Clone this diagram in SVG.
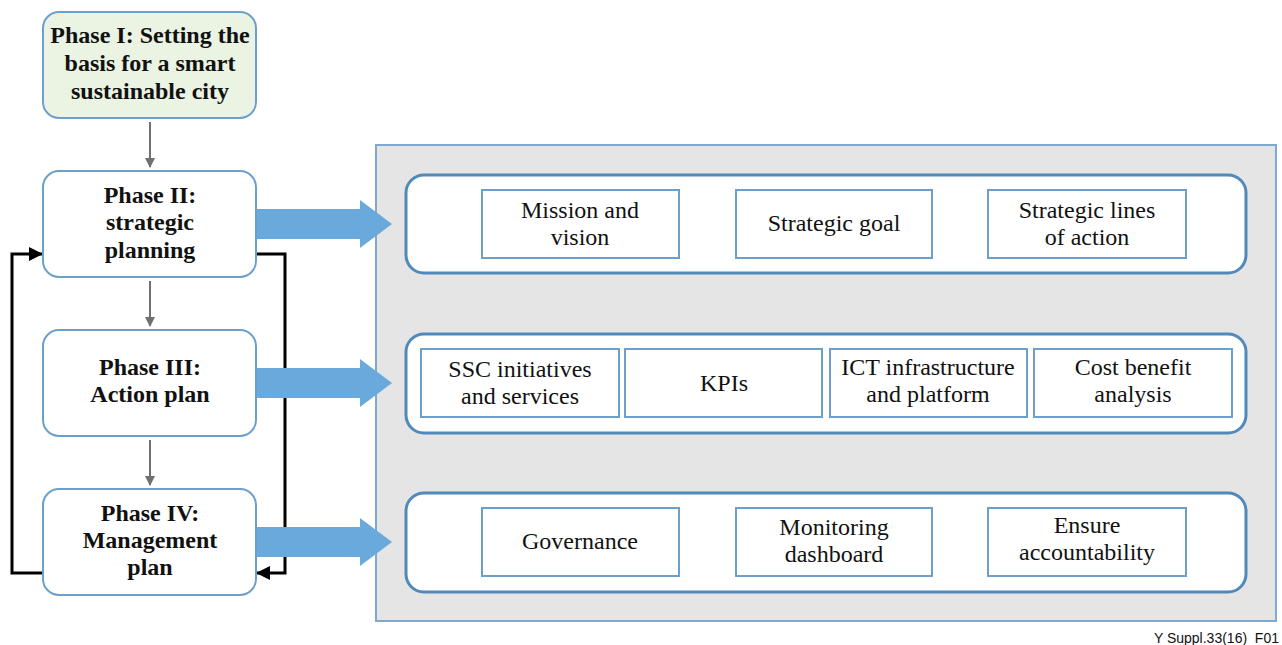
<svg xmlns="http://www.w3.org/2000/svg" width="1282" height="645" viewBox="0 0 1282 645">
<defs>
<style>
.phase{fill:#ffffff;stroke:#6d9fcc;stroke-width:2}
.p1{fill:#ebf4e3}
.pt{font-family:'Liberation Serif','Times New Roman',serif;font-weight:bold;font-size:24px;fill:#111;text-anchor:middle}
.it{font-family:'Liberation Serif','Times New Roman',serif;font-size:24px;fill:#111;text-anchor:middle}
.row{fill:#ffffff;stroke:#5289bb;stroke-width:3}
.box{fill:#ffffff;stroke:#6d9fcc;stroke-width:2}
.blue{fill:#69a9db}
.gray{stroke:#707070;stroke-width:2;fill:none}
.fb{stroke:#000;stroke-width:3;fill:none}
</style>
<marker id="ga" markerWidth="10" markerHeight="10" refX="9" refY="5" orient="auto" markerUnits="userSpaceOnUse">
<path d="M0,0 L10,5 L0,10 Z" fill="#707070"/>
</marker>
<marker id="ba" markerWidth="14" markerHeight="14" refX="13" refY="7" orient="auto" markerUnits="userSpaceOnUse">
<path d="M0,0 L14,7 L0,14 Z" fill="#000"/>
</marker>
</defs>
<rect width="1282" height="645" fill="#ffffff"/>

<rect id="panel" x="376" y="145" width="900" height="476" fill="#e5e5e5" stroke="#80a9cf" stroke-width="2"/>

<g id="connectors">
<line class="gray" x1="150" y1="122" x2="150" y2="167" marker-end="url(#ga)"/>
<line class="gray" x1="150" y1="281" x2="150" y2="326" marker-end="url(#ga)"/>
<line class="gray" x1="150" y1="440" x2="150" y2="485" marker-end="url(#ga)"/>
<polyline class="fb" points="256,254 285,254 285,573 257,573" marker-end="url(#ba)"/>
<polyline class="fb" points="43,573 12,573 12,254 42,254" marker-end="url(#ba)"/>
<path class="blue" d="M256,209 L360,209 L360,200 L392,224 L360,248 L360,239 L256,239 Z"/>
<path class="blue" d="M256,368 L360,368 L360,359 L392,383 L360,407 L360,398 L256,398 Z"/>
<path class="blue" d="M256,527 L360,527 L360,518 L392,542 L360,566 L360,557 L256,557 Z"/>
</g>

<g id="phase1">
<rect class="phase p1" x="43" y="12" width="213" height="106" rx="16"/>
<text class="pt" x="150" y="43">Phase I: Setting the</text>
<text class="pt" x="150" y="71">basis for a smart</text>
<text class="pt" x="150" y="99">sustainable city</text>
</g>
<g id="phase2">
<rect class="phase" x="43" y="171" width="213" height="106" rx="16"/>
<text class="pt" x="150" y="203">Phase II:</text>
<text class="pt" x="150" y="230">strategic</text>
<text class="pt" x="150" y="258">planning</text>
</g>
<g id="phase3">
<rect class="phase" x="43" y="330" width="213" height="106" rx="16"/>
<text class="pt" x="150" y="375">Phase III:</text>
<text class="pt" x="150" y="402">Action plan</text>
</g>
<g id="phase4">
<rect class="phase" x="43" y="489" width="213" height="106" rx="16"/>
<text class="pt" x="150" y="521">Phase IV:</text>
<text class="pt" x="150" y="548">Management</text>
<text class="pt" x="150" y="575">plan</text>
</g>

<g id="row1">
<rect class="row" x="406" y="175" width="840" height="98" rx="18"/>
</g>
<g id="mission">
<rect class="box" x="482" y="190" width="197" height="68"/>
<text class="it" x="580" y="218">Mission and</text>
<text class="it" x="580" y="245">vision</text>
</g>
<g id="goal">
<rect class="box" x="736" y="190" width="196" height="68"/>
<text class="it" x="834" y="231">Strategic goal</text>
</g>
<g id="lines">
<rect class="box" x="988" y="190" width="198" height="68"/>
<text class="it" x="1087" y="218">Strategic lines</text>
<text class="it" x="1087" y="245">of action</text>
</g>

<g id="row2">
<rect class="row" x="406" y="334" width="840" height="99" rx="18"/>
</g>
<g id="ssc">
<rect class="box" x="421" y="349" width="198" height="68"/>
<text class="it" x="520" y="377">SSC initiatives</text>
<text class="it" x="520" y="404">and services</text>
</g>
<g id="kpis">
<rect class="box" x="625" y="349" width="197" height="68"/>
<text class="it" x="724" y="391">KPIs</text>
</g>
<g id="ict">
<rect class="box" x="830" y="349" width="197" height="68"/>
<text class="it" x="928" y="375">ICT infrastructure</text>
<text class="it" x="928" y="402">and platform</text>
</g>
<g id="cost">
<rect class="box" x="1034" y="349" width="198" height="68"/>
<text class="it" x="1133" y="375">Cost benefit</text>
<text class="it" x="1133" y="402">analysis</text>
</g>

<g id="row3">
<rect class="row" x="406" y="493" width="840" height="99" rx="18"/>
</g>
<g id="governance">
<rect class="box" x="482" y="508" width="197" height="68"/>
<text class="it" x="580" y="549">Governance</text>
</g>
<g id="monitoring">
<rect class="box" x="736" y="508" width="196" height="68"/>
<text class="it" x="834" y="535">Monitoring</text>
<text class="it" x="834" y="562">dashboard</text>
</g>
<g id="ensure">
<rect class="box" x="988" y="508" width="198" height="68"/>
<text class="it" x="1087" y="533">Ensure</text>
<text class="it" x="1087" y="560">accountability</text>
</g>

<text x="1279" y="643" font-family="'Liberation Sans',Arial,sans-serif" font-size="14" text-anchor="end" fill="#111">Y Suppl.33(16)_F01</text>
</svg>
